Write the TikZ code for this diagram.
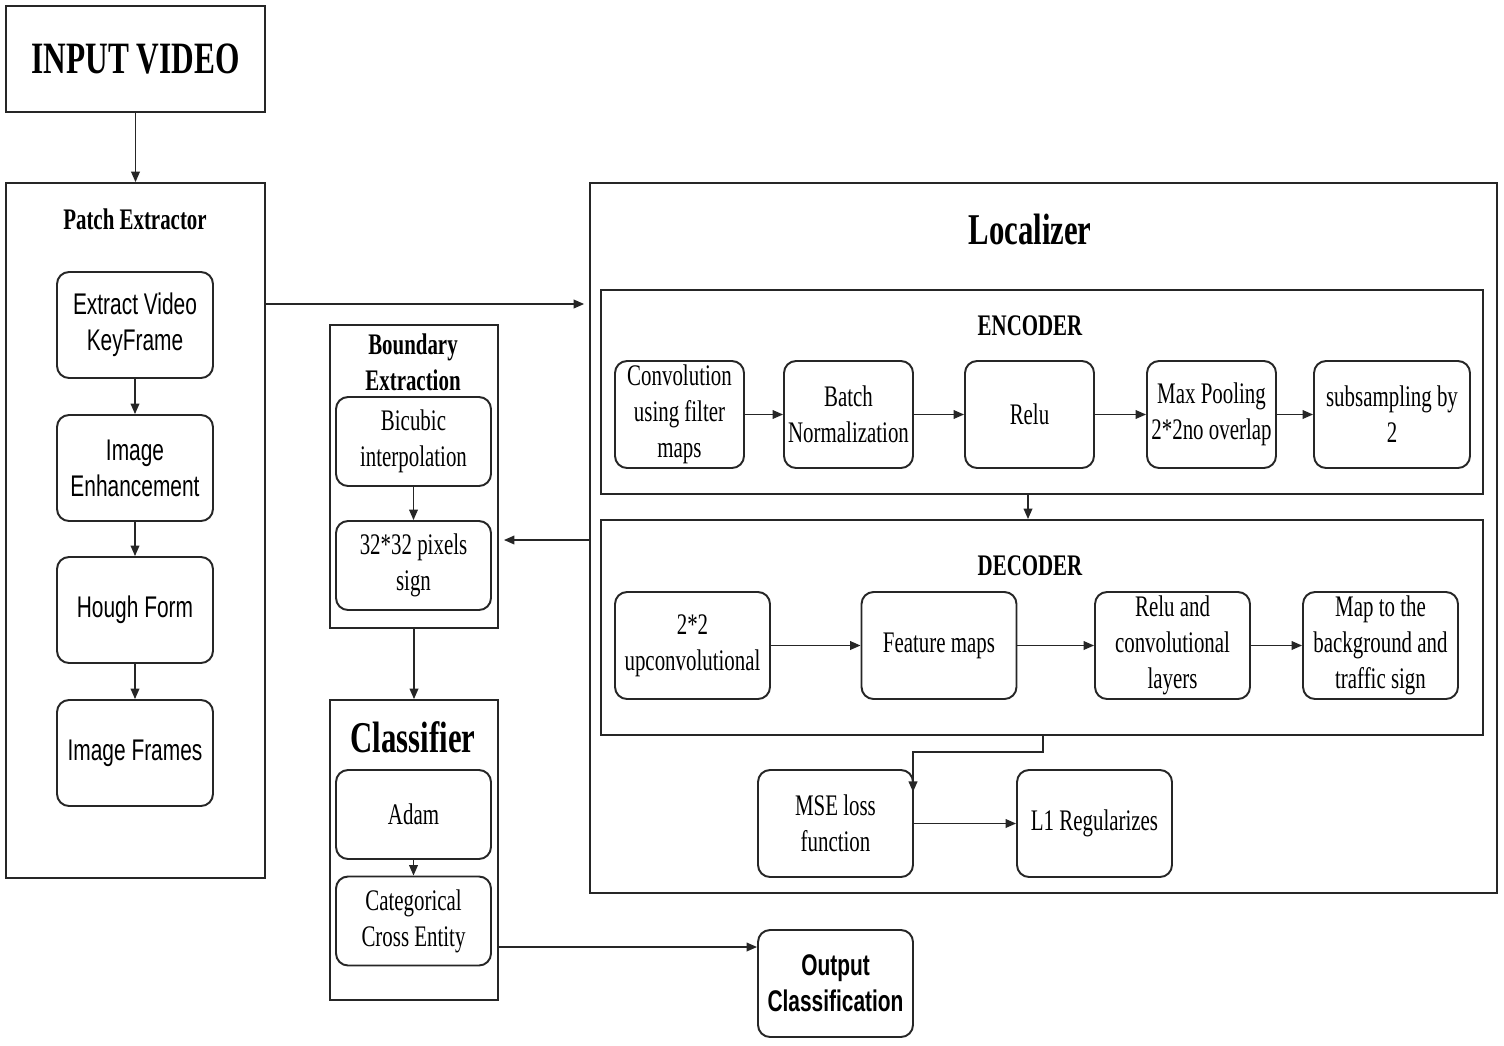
\documentclass[tikz,border=0pt]{standalone}
\usepackage{fontspec}
\setmainfont[FakeStretch=0.7]{Liberation Serif}
\newfontfamily\boxsans[FakeStretch=0.7]{Liberation Sans}
\usetikzlibrary{arrows.meta}

\begin{document}
\begin{tikzpicture}[x=0.02cm, y=-0.02cm,
        frame/.style={draw=black!85, line width=1.1pt, inner sep=0pt},
        block/.style={draw=black!85, line width=1.1pt, rounded corners=0.24cm,
            align=center, inner sep=1pt, font=\fontsize{17}{20.5}\selectfont},
        sansblock/.style={block, font=\boxsans\fontsize{17}{20.5}\selectfont},
        title/.style={align=center, font=\fontsize{17}{20.5}\selectfont\bfseries},
        bigtitle/.style={font=\fontsize{25}{30}\selectfont\bfseries},
        arrow/.style={draw=black!85, line width=0.8pt, -{Triangle[length=6pt, width=5pt]}}]

    \useasboundingbox (0,0) rectangle (1504,1045);

    % left column
    \node[frame, minimum width=5.18cm, minimum height=2.12cm,
        font=\fontsize{25.5}{30}\selectfont\bfseries] (input) at (135.5,59) {INPUT VIDEO};
    \node[frame, minimum width=5.18cm, minimum height=13.9cm] (patch) at (135.5,530.5) {};
    \node[title] (patchtitle) at (135,219) {Patch Extractor};

    \node[sansblock, minimum width=3.12cm, minimum height=2.12cm] (keyframe) at (135,325) {Extract Video\\KeyFrame};
    \node[sansblock, minimum width=3.12cm, minimum height=2.12cm] (enhance) at (135,468) {Image\\Enhancement};
    \node[sansblock, minimum width=3.12cm, minimum height=2.12cm] (hough) at (135,610) {Hough Form};
    \node[sansblock, minimum width=3.12cm, minimum height=2.12cm] (frames) at (135,753) {Image Frames};

    \draw[arrow] (input) -- (patch);
    \draw[arrow] (keyframe) -- (enhance);
    \draw[arrow] (enhance) -- (hough);
    \draw[arrow] (hough) -- (frames);

    % boundary extraction and classifier
    \node[frame, minimum width=3.36cm, minimum height=6.06cm] (boundary) at (414,476.5) {};
    \node[title] (boundarytitle) at (413,362) {Boundary\\Extraction};
    \node[block, minimum width=3.1cm, minimum height=1.78cm] (bicubic) at (413.5,441.5) {Bicubic\\interpolation};
    \node[block, minimum width=3.1cm, minimum height=1.78cm] (pixels) at (413.5,565.5) {32*32 pixels\\sign};
    \draw[arrow] (bicubic) -- (pixels);

    \node[frame, minimum width=3.36cm, minimum height=6.0cm] (classifier) at (414,850) {};
    \node[bigtitle] (classifiertitle) at (413,737) {Classifier};
    \node[block, minimum width=3.1cm, minimum height=1.78cm] (adam) at (413.5,814.5) {Adam};
    \node[block, minimum width=3.1cm, minimum height=1.78cm] (crossent) at (413.5,921) {Categorical\\Cross Entity};
    \draw[arrow] (adam) -- (crossent);
    \draw[arrow] (boundary) -- (classifier);

    \node[sansblock, minimum width=3.1cm, minimum height=2.14cm,
        font=\boxsans\fontsize{17}{20.5}\selectfont\bfseries] (output) at (835.5,983.5) {Output\\Classification};

    % localizer
    \node[frame, minimum width=18.14cm, minimum height=14.2cm] (localizer) at (1043.5,538) {};
    \node[bigtitle] (localizertitle) at (1030,229) {Localizer};

    \node[frame, minimum width=17.64cm, minimum height=4.08cm] (encoder) at (1042,392) {};
    \node[title] (encodertitle) at (1030,326) {ENCODER};
    \node[block, minimum width=2.58cm, minimum height=2.14cm] (conv) at (679.5,414.5) {Convolution\\using filter\\maps};
    \node[block, minimum width=2.58cm, minimum height=2.14cm] (batch) at (848.5,414.5) {Batch\\Normalization};
    \node[block, minimum width=2.58cm, minimum height=2.14cm] (relu) at (1029.5,414.5) {Relu};
    \node[block, minimum width=2.58cm, minimum height=2.14cm] (pool) at (1211.5,414.5) {Max Pooling\\2*2no overlap};
    \node[block, minimum width=3.12cm, minimum height=2.14cm] (subsample) at (1392,414.5) {subsampling by\\2};
    \draw[arrow] (conv) -- (batch);
    \draw[arrow] (batch) -- (relu);
    \draw[arrow] (relu) -- (pool);
    \draw[arrow] (pool) -- (subsample);

    \node[frame, minimum width=17.64cm, minimum height=4.3cm] (decoder) at (1042,627.5) {};
    \node[title] (decodertitle) at (1030,566) {DECODER};
    \node[block, minimum width=3.1cm, minimum height=2.14cm] (upconv) at (692.5,645.5) {2*2\\upconvolutional};
    \node[block, minimum width=3.1cm, minimum height=2.14cm] (features) at (939,645.5) {Feature maps};
    \node[block, minimum width=3.1cm, minimum height=2.14cm] (reluconv) at (1172.5,645.5) {Relu and\\convolutional\\layers};
    \node[block, minimum width=3.1cm, minimum height=2.14cm] (mapsign) at (1380.5,645.5) {Map to the\\background and\\traffic sign};
    \draw[arrow] (upconv) -- (features);
    \draw[arrow] (features) -- (reluconv);
    \draw[arrow] (reluconv) -- (mapsign);

    \coordinate (e1) at (1028,494);
    \draw[arrow] (e1) -- (e1 |- decoder.north);

    \node[block, minimum width=3.1cm, minimum height=2.14cm] (mse) at (835.5,823.5) {MSE loss\\function};
    \node[block, minimum width=3.1cm, minimum height=2.14cm] (lone) at (1094.5,823.5) {L1 Regularizes};
    \draw[arrow] (mse) -- (lone);

    \coordinate (d1) at (1043,752);
    \coordinate (d2) at (913,752);
    \coordinate (d3) at (913,792);
    \draw[arrow] (decoder.south -| d1) -- (d1) -- (d2) -- (d3);

    % links between the columns
    \coordinate (p1) at (265,304);
    \draw[arrow, shorten >=0.1cm] (p1) -- (p1 -| localizer.west);
    \coordinate (l1) at (590,540);
    \draw[arrow, shorten >=0.1cm] (l1) -- (l1 -| boundary.east);
    \coordinate (c1) at (498,947);
    \draw[arrow] (c1) -- (c1 -| output.west);
\end{tikzpicture}
\end{document}
